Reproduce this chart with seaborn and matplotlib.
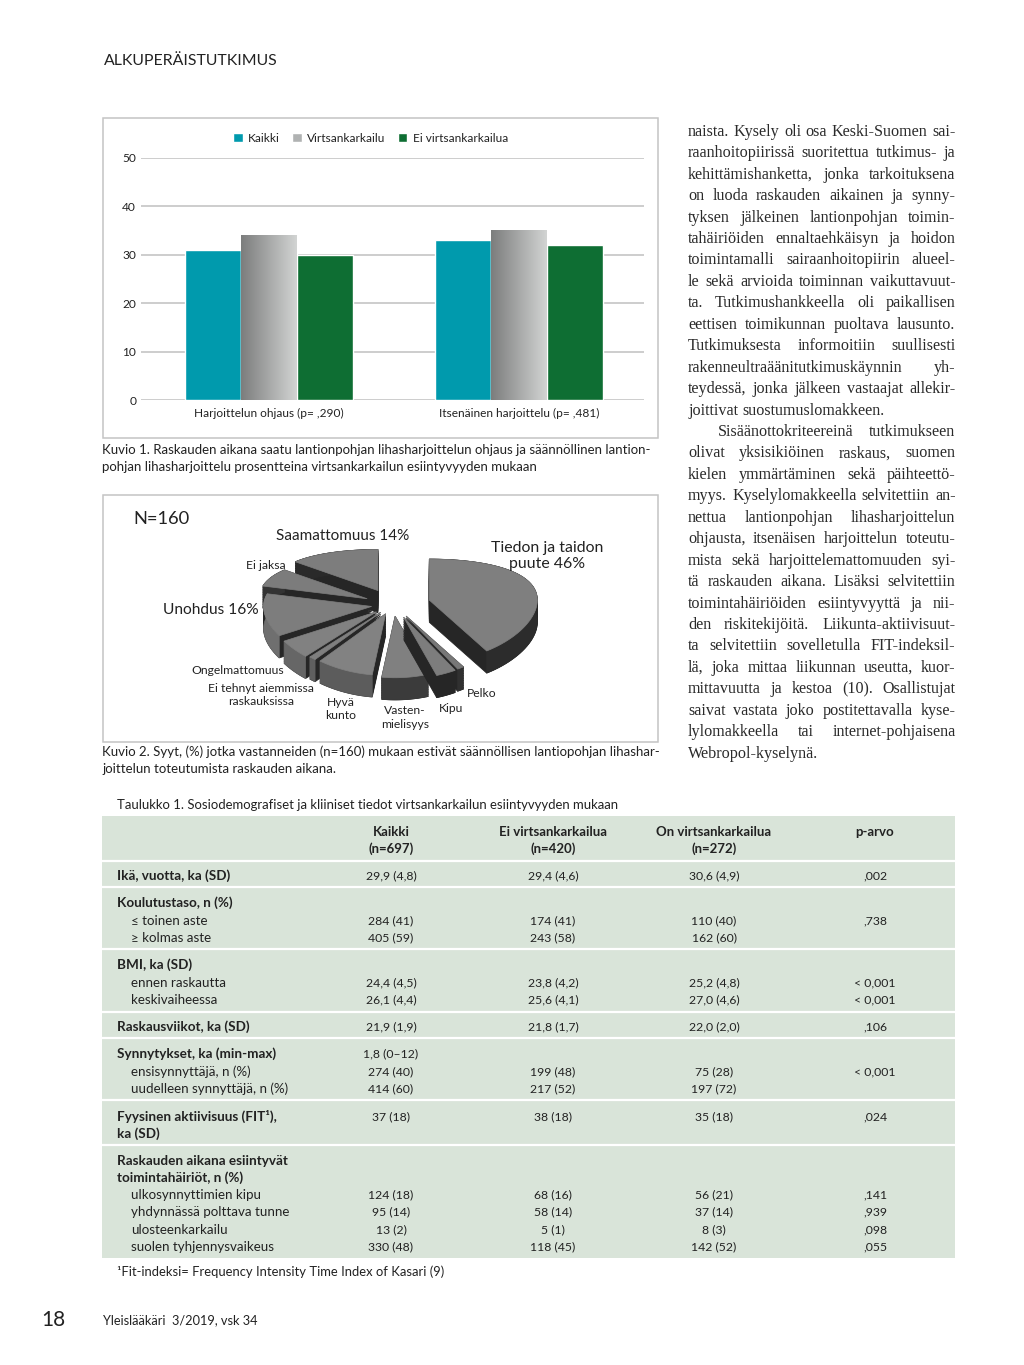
import numpy as np
import pandas as pd
import seaborn as sns
import matplotlib
matplotlib.use("Agg")
import matplotlib.pyplot as plt
from matplotlib.patches import Rectangle

# ---------- data ----------
bar_categories = ["Harjoittelun ohjaus (p= ,290)", "Itsenäinen harjoittelu (p= ,481)"]
bar_series = ["Kaikki", "Virtsankarkailu", "Ei virtsankarkailua"]
kaikki_values = [31, 33]
virtsa_values = [34, 35]
ei_virtsa_values = [30, 32]
bar_ticks = [0, 10, 20, 30, 40, 50]

pie_names = ["Tiedon ja taidon puute", "Pelko", "Kipu", "Vastenmielisyys", "Hyvä kunto",
             "Ei tehnyt aiemmissa raskauksissa", "Ongelmattomuus", "Unohdus", "Ei jaksa", "Saamattomuus"]
# shares as drawn in the picture
pie_values = [41.5, 1, 3, 7, 8.5, 1, 5, 13, 7, 14]

table_head = ["Kaikki\n(n=697)", "Ei virtsankarkailua\n(n=420)", "On virtsankarkailua\n(n=272)", "p-arvo"]
row_labels = ["Ikä, vuotta, ka (SD)", "Koulutustaso, n (%)", "≤ toinen aste", "≥ kolmas aste", "BMI, ka (SD)",
              "ennen raskautta", "keskivaiheessa", "Raskausviikot, ka (SD)", "Synnytykset, ka (min-max)",
              "ensisynnyttäjä, n (%)", "uudelleen synnyttäjä, n (%)", "Fyysinen aktiivisuus (FIT¹),", "ka (SD)",
              "Raskauden aikana esiintyvät", "toimintahäiriöt, n (%)", "ulkosynnyttimien kipu",
              "yhdynnässä polttava tunne", "ulosteenkarkailu", "suolen tyhjennysvaikeus"]
col_kaikki = ["29,9 (4,8)", "", "284 (41)", "405 (59)", "", "24,4 (4,5)", "26,1 (4,4)", "21,9 (1,9)", "1,8 (0–12)",
              "274 (40)", "414 (60)", "37 (18)", "", "", "", "124 (18)", "95 (14)", "13 (2)", "330 (48)"]
col_ei = ["29,4 (4,6)", "", "174 (41)", "243 (58)", "", "23,8 (4,2)", "25,6 (4,1)", "21,8 (1,7)", "",
          "199 (48)", "217 (52)", "38 (18)", "", "", "", "68 (16)", "58 (14)", "5 (1)", "118 (45)"]
col_on = ["30,6 (4,9)", "", "110 (40)", "162 (60)", "", "25,2 (4,8)", "27,0 (4,6)", "22,0 (2,0)", "",
          "75 (28)", "197 (72)", "35 (18)", "", "", "", "56 (21)", "37 (14)", "8 (3)", "142 (52)"]
col_p = [",002", "", ",738", "", "", "< 0,001", "< 0,001", ",106", "", "< 0,001", "", ",024", "", "", "",
         ",141", ",939", ",098", ",055"]

body_lines = [
    "naista. Kysely oli osa Keski-Suomen sai-", "raanhoitopiirissä suoritettua tutkimus- ja",
    "kehittämishanketta, jonka tarkoituksena", "on luoda raskauden aikainen ja synny-",
    "tyksen jälkeinen lantionpohjan toimin-", "tahäiriöiden ennaltaehkäisyn ja hoidon",
    "toimintamalli sairaanhoitopiirin alueel-", "le sekä arvioida toiminnan vaikuttavuut-",
    "ta. Tutkimushankkeella oli paikallisen", "eettisen toimikunnan puoltava lausunto.",
    "Tutkimuksesta informoitiin suullisesti", "rakenneultraäänitutkimuskäynnin yh-",
    "teydessä, jonka jälkeen vastaajat allekir-", "joittivat suostumuslomakkeen.",
    "Sisäänottokriteereinä tutkimukseen", "olivat yksisikiöinen raskaus, suomen",
    "kielen ymmärtäminen sekä päihteettö-", "myys. Kyselylomakkeella selvitettiin an-",
    "nettua lantionpohjan lihasharjoittelun", "ohjausta, itsenäisen harjoittelun toteutu-",
    "mista sekä harjoittelemattomuuden syi-", "tä raskauden aikana. Lisäksi selvitettiin",
    "toimintahäiriöiden esiintyvyyttä ja nii-", "den riskitekijöitä. Liikunta-aktiivisuut-",
    "ta selvitettiin sovelletulla FIT-indeksil-", "lä, joka mittaa liikunnan useutta, kuor-",
    "mittavuutta ja kestoa (10). Osallistujat", "saivat vastata joko postitettavalla kyse-",
    "lylomakkeella tai internet-pohjaisena", "Webropol-kyselynä."]

# ---------- page set-up ----------
W, H = 1024, 1365
sns.set_theme(style="white")
SANS = ["Lato", "DejaVu Sans"]
plt.rcParams["font.family"] = SANS
fig = plt.figure(figsize=(W / 100, H / 100), dpi=100, facecolor="white")
renderer = fig.canvas.get_renderer()
INK = "#222222"


def axes_px(x0, y0, x1, y1, **kw):
    return fig.add_axes([x0 / W, 1 - y1 / H, (x1 - x0) / W, (y1 - y0) / H], **kw)


page = axes_px(0, 0, W, H, zorder=5)
page.set_xlim(0, W)
page.set_ylim(H, 0)
page.axis("off")
page.patch.set_alpha(0)


def put(x, y, s, size=9.5, ha="left", weight="normal", color=INK):
    # y is the middle of the capitals, so that descenders do not shift a line
    base = y + 0.36 * size * 100 / 72
    return page.text(x, base, s, fontsize=size, ha=ha, va="baseline", weight=weight, color=color, family=SANS)


# ---------- figure 1: grouped bars ----------
ax1 = axes_px(141, 158, 644, 400)
df = pd.DataFrame({
    "cat": bar_categories * 3,
    "series": np.repeat(bar_series, 2),
    "value": kaikki_values + virtsa_values + ei_virtsa_values})
sns.barplot(data=df, x="cat", y="value", hue="series", order=bar_categories, hue_order=bar_series,
            palette=["#009aad", "#b0b2b2", "#0e6e33"], width=0.67, gap=0, saturation=1,
            ax=ax1, zorder=3, legend=True)
ax1.set_yticks(bar_ticks)
ax1.set_xlabel("")
ax1.set_ylabel("")
ax1.grid(axis="y", color="#c9c9c9", lw=1.3, zorder=0)
ax1.set_axisbelow(True)
for s in ax1.spines.values():
    s.set_visible(False)
ax1.tick_params(axis="y", length=0, pad=3.5, labelsize=8.6, labelcolor=INK, labelleft=True)
ax1.tick_params(axis="x", length=0, pad=6, labelsize=8.6, labelcolor=INK)
ax1.patch.set_alpha(0)
# gradient on the middle series
grad = np.linspace(0, 1, 128).reshape(1, -1)
cmap = matplotlib.colors.LinearSegmentedColormap.from_list("g", ["#7c7d7d", "#d2d4d3"])
for bar in ax1.containers[1]:
    ax1.imshow(grad, cmap=cmap, aspect="auto", zorder=4,
               extent=[bar.get_x(), bar.get_x() + bar.get_width(), 0, bar.get_height()])
ax1.set_xlim(-0.512, 1.5)
ax1.set_ylim(0, 50)
hh, ll = ax1.get_legend_handles_labels()
ax1.legend(hh, ll, ncol=3, loc="center", bbox_to_anchor=(370.5 / W, 1 - 138 / H),
           bbox_transform=fig.transFigure, frameon=False, fontsize=8.6, handlelength=0.8, handleheight=0.8,
           handletextpad=0.45, columnspacing=1.03, labelcolor=INK)

page.add_patch(Rectangle((102.5, 117.5), 555.5, 320.5, fill=False, ec="#c4c4c4", lw=1.1))
put(102, 449, "Kuvio 1. Raskauden aikana saatu lantionpohjan lihasharjoittelun ohjaus ja säännöllinen lantion-")
put(102, 466, "pohjan lihasharjoittelu prosentteina virtsankarkailun esiintyvyyden mukaan")

# ---------- figure 2: exploded pseudo-3D pie ----------
R = 108.0
CX, CY = 393.0, 605.0
ax2 = axes_px(103, 494, 658, 742)
ax2.set_xlim((103 - CX) / R, (658 - CX) / R)
ax2.set_ylim((CY - 742) / R, (CY - 494) / R)
ax2.axis("off")
explode = [0.35, 0.24, 0.25, 0.21, 0.18, 0.18, 0.20, 0.20, 0.27, 0.33]
rim_colors = ["#2c2c2c", "#303030", "#262626", "#3b3b3b", "#5c5c5c", "#5f5f5f", "#666666", "#6f6f6f", "#333333",
              "#2a2a2a"]
top_colors = ["#7f7f7f", "#777777", "#7d7d7d", "#808080", "#828282", "#7f7f7f", "#818181", "#7d7d7d", "#7c7c7c",
              "#7d7d7d"]
DEPTH = 0.205


def project(x, y):
    return x, y * (0.475 - 0.095 * y)


shares = np.array(pie_values, dtype=float)
edges = 90 - np.cumsum(np.r_[0, shares]) / shares.sum() * 360
wedges = []
for i in range(len(shares)):
    t = np.radians(np.linspace(edges[i], edges[i + 1], 60))
    mid = np.radians((edges[i] + edges[i + 1]) / 2)
    ax_, ay_ = project(explode[i] * np.cos(mid), explode[i] * np.sin(mid))
    arc_x, arc_y = project(np.cos(t), np.sin(t))
    wedges.append((ay_, i, ax_, ay_, arc_x + ax_, arc_y + ay_))
for _, i, ax_, ay_, arc_x, arc_y in sorted(wedges, key=lambda w: -w[0]):
    px = np.r_[ax_, arc_x]
    py = np.r_[ay_, arc_y]
    for d in np.linspace(DEPTH, 0, 14):
        ax2.fill(px, py - d, color="#262626", lw=0.6, zorder=2)
    ax2.fill(np.r_[arc_x, arc_x[::-1]], np.r_[arc_y, arc_y[::-1] - DEPTH], color=rim_colors[i], lw=0.5, zorder=2)
    ax2.fill(px, py, color=top_colors[i], lw=0.5, zorder=2)

page.add_patch(Rectangle((102.5, 494.5), 555.5, 247.5, fill=False, ec="#c4c4c4", lw=1.1))
put(133, 517, "N=160", 13.2)
put(343, 535, "Saamattomuus 14%", 11, ha="center")
put(547, 546, "Tiedon ja taidon", 11.4, ha="center")
put(547, 562, "puute 46%", 11.4, ha="center")
put(211, 608, "Unohdus 16%", 11.2, ha="center")
put(266, 565, "Ei jaksa", 8.7, ha="center")
put(238, 670, "Ongelmattomuus", 8.7, ha="center")
put(261, 688, "Ei tehnyt aiemmissa", 8.7, ha="center")
put(261, 701, "raskauksissa", 8.7, ha="center")
put(341, 702, "Hyvä", 8.7, ha="center")
put(341, 715, "kunto", 8.7, ha="center")
put(405, 710, "Vasten-", 8.7, ha="center")
put(405, 724, "mielisyys", 8.7, ha="center")
put(451, 708, "Kipu", 8.7, ha="center")
put(482, 693, "Pelko", 8.7, ha="center")
put(102, 751, "Kuvio 2. Syyt, (%) jotka vastanneiden (n=160) mukaan estivät säännöllisen lantiopohjan lihashar-")
put(102, 768, "joittelun toteutumista raskauden aikana.")

# ---------- table ----------
put(117, 804, "Taulukko 1. Sosiodemografiset ja kliiniset tiedot virtsankarkailun esiintyvyyden mukaan", 9.45)
page.add_patch(Rectangle((102, 816), 853, 442, fc="#d9e4d9", ec="none", zorder=0))
for y in [861, 887, 949, 1012, 1038, 1100, 1145]:
    page.plot([102, 955], [y, y], color="white", lw=1.6, zorder=1)
columns_x = [391, 553, 714, 875]
for x, head in zip(columns_x, table_head):
    for k, part in enumerate(head.split("\n")):
        put(x, 831 + k * 17.5, part, 9.5, ha="center", weight="bold")
row_y = [875, 902, 920, 937, 964, 982, 999, 1026, 1053, 1071, 1088, 1116, 1133, 1160, 1177, 1194, 1211, 1229, 1246]
bold_rows = {0, 1, 4, 7, 8, 11, 12, 13, 14}
for i, (lab, y) in enumerate(zip(row_labels, row_y)):
    is_bold = i in bold_rows
    put(117 if is_bold else 131, y, lab, 9.7 if is_bold else 9.6, weight="bold" if is_bold else "normal")
    for x, col in zip(columns_x, [col_kaikki, col_ei, col_on, col_p]):
        if col[i]:
            put(x, y, col[i], 8.8, ha="center")
put(117, 1271, "¹Fit-indeksi= Frequency Intensity Time Index of Kasari (9)", 9.4)

# ---------- running heads ----------
put(104, 59, "ALKUPERÄISTUTKIMUS", 11.4)
put(41, 1318, "18", 15)
put(103, 1320, "Yleislääkäri  3/2019, vsk 34", 9.2)


# ---------- justified serif column ----------
def justified(line, x0, x1, y, stretch=True):
    words = line.split(" ")
    items = [page.text(x0, y, w, fontsize=11.6, family="Liberation Serif", va="baseline", color="#2a2a2a")
             for w in words]
    widths = [t.get_window_extent(renderer).width for t in items]
    space = 4.0
    if stretch and len(words) > 1:
        space = (x1 - x0 - sum(widths)) / (len(words) - 1)
    x = x0
    for t, w in zip(items, widths):
        t.set_x(x)
        x += w + space


for i, line in enumerate(body_lines):
    y = 135.7 + i * 21.45
    indent = 30 if i == 14 else 0
    last = i in (13, 29)
    justified(line, 688 + indent, 955.5, y, stretch=not last)

fig.savefig("out.png", dpi=100, facecolor="white")
